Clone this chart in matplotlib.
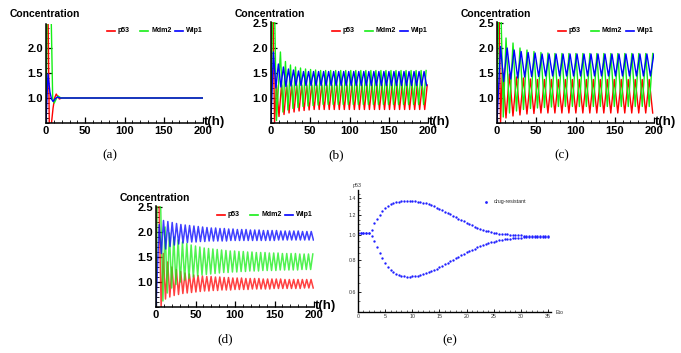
import numpy as np
import matplotlib
matplotlib.use('Agg')
import matplotlib.pyplot as plt
from matplotlib.lines import Line2D
from matplotlib.ticker import MultipleLocator, FixedLocator, NullFormatter, FixedFormatter

plt.rcParams['font.family'] = ['Liberation Sans', 'DejaVu Sans']
plt.rcParams['font.weight'] = 'bold'

W, H = 681, 353

RED = '#ff0000'
GREEN = '#16ee16'
BLUE = '#0000ff'

# ---------------- panel (a): damped to the fixed point ----------------
t_a_p53 = [0, 1.0, 2.5, 4.2, 5.5, 7.0, 9.0, 11.0, 13.0, 15.0, 17.0, 20.0, 25.0, 200]
p53_a = [0.45, 2.8, 2.8, 0.45, 0.35, 0.5, 0.8, 1.0, 1.08, 1.03, 0.98, 1.0, 1.0, 1.0]
t_a_mdm2 = [0, 1.5, 6.4, 8.5, 10.5, 13.0, 15.5, 19.0, 24.0, 200]
mdm2_a = [0.45, 2.8, 2.8, 1.0, 0.9, 0.98, 1.04, 1.0, 1.0, 1.0]
t_a_wip1 = [0, 2.5, 5.0, 7.0, 9.0, 12.0, 14.5, 18.0, 24.0, 200]
wip1_a = [0.5, 1.48, 1.12, 0.98, 0.93, 0.99, 1.02, 1.0, 1.0, 1.0]

# ---------------- panel (b): sustained oscillation ----------------
# start segment (t, value) then extrema spaced by half a period
half_b = 3.2
p53_b_start = ([0, 0.8, 2.5, 4.5], [0.45, 2.8, 2.8, 0.5])
p53_b_t0 = 7.0
p53_b_ext = [1.26, 0.63, 1.26, 0.67, 1.26, 0.70, 1.26, 0.72, 1.26, 0.74,
             1.26, 0.75, 1.26, 0.76] + [1.26, 0.77] * 30
mdm2_b_start = ([0, 2.0, 4.5, 7.0], [0.45, 2.8, 2.8, 0.55])
mdm2_b_t0 = 12.0
mdm2_b_ext = [1.92, 0.72, 1.73, 0.76, 1.66, 0.79, 1.62, 0.81, 1.60, 0.83,
              1.58, 0.84, 1.57, 0.85, 1.56, 0.86] + [1.55, 0.87] * 30
wip1_b_start = ([0, 3.0], [0.5, 1.92])
wip1_b_t0 = 6.2
wip1_b_ext = [1.20, 1.68, 1.22, 1.62, 1.23, 1.58, 1.24, 1.56, 1.25, 1.54,
              1.25] + [1.53, 1.25] * 30

# ---------------- panel (c): larger oscillation ----------------
half_c = 4.45
p53_c_start = ([0, 0.8, 2.6, 4.5], [0.45, 2.8, 2.8, 0.5])
p53_c_t0 = 7.0
p53_c_ext = [1.60, 0.60, 1.48, 0.64, 1.42, 0.66, 1.40, 0.68, 1.38, 0.69] + [1.37, 0.70] * 25
mdm2_c_start = ([0, 2.0, 5.0, 8.0], [0.45, 2.8, 2.8, 0.62])
mdm2_c_t0 = 11.5
mdm2_c_ext = [2.20, 0.70, 2.10, 0.74, 2.00, 0.77, 1.96, 0.79, 1.93, 0.80,
              1.91, 0.81, 1.90, 0.82] + [1.89, 0.83] * 25
wip1_c_start = ([0, 4.5], [0.5, 2.03])
wip1_c_t0 = 8.5
wip1_c_ext = [1.33, 2.00, 1.38, 1.96, 1.40, 1.93, 1.42, 1.91, 1.43, 1.90,
              1.43] + [1.88, 1.44] * 25

# ---------------- panel (d): slowly damped oscillation ----------------
half_d = 2.75
p53_d_start = ([0, 0.8, 3.5], [0.45, 2.8, 2.8])
p53_d_t0 = 6.5
p53_d_troughs = [0.50, 0.66, 0.70, 0.73, 0.75, 0.77, 0.78, 0.79, 0.80, 0.81, 0.82, 0.82,
                 0.83, 0.83, 0.84, 0.84, 0.84, 0.85, 0.85, 0.85, 0.85, 0.86, 0.86, 0.86,
                 0.86, 0.86, 0.87, 0.87, 0.87, 0.87, 0.87, 0.87, 0.87, 0.88, 0.88, 0.88]
p53_d_peaks = [1.57, 1.40, 1.30, 1.25, 1.21, 1.18, 1.16, 1.14, 1.13, 1.12, 1.11, 1.11,
               1.10, 1.10, 1.09, 1.09, 1.08, 1.08, 1.08, 1.07, 1.07, 1.07, 1.07, 1.06,
               1.06, 1.06, 1.06, 1.06, 1.05, 1.05, 1.05, 1.05, 1.05, 1.05, 1.05, 1.05]
mdm2_d_start = ([0, 1.5], [0.45, 2.8])
mdm2_d_t0 = 6.0
mdm2_d_peaks = [2.45, 2.10, 1.98, 1.90, 1.84, 1.80, 1.77, 1.74, 1.72, 1.70, 1.68, 1.67,
                1.66, 1.65, 1.64, 1.63, 1.62, 1.62, 1.61, 1.61, 1.60, 1.60, 1.59, 1.59,
                1.59, 1.58, 1.58, 1.58, 1.57, 1.57, 1.57, 1.57, 1.56, 1.56, 1.56, 1.56]
mdm2_d_troughs = [0.62, 0.78, 0.88, 0.95, 1.00, 1.04, 1.07, 1.10, 1.12, 1.14, 1.15, 1.16,
                  1.17, 1.18, 1.19, 1.19, 1.20, 1.20, 1.21, 1.21, 1.22, 1.22, 1.22, 1.23,
                  1.23, 1.23, 1.23, 1.24, 1.24, 1.24, 1.24, 1.24, 1.25, 1.25, 1.25, 1.25]
wip1_d_start = ([0], [0.5])
wip1_d_t0 = 4.0
wip1_d_peaks = [2.15, 2.23, 2.21, 2.19, 2.17, 2.15, 2.14, 2.13, 2.12, 2.11, 2.10, 2.09,
                2.08, 2.08, 2.07, 2.07, 2.06, 2.06, 2.05, 2.05, 2.05, 2.04, 2.04, 2.04,
                2.03, 2.03, 2.03, 2.03, 2.02, 2.02, 2.02, 2.02, 2.02, 2.01, 2.01, 2.01]
wip1_d_troughs = [1.57, 1.66, 1.71, 1.74, 1.76, 1.78, 1.79, 1.80, 1.80, 1.81, 1.81, 1.82,
                  1.82, 1.82, 1.82, 1.82, 1.83, 1.83, 1.83, 1.83, 1.83, 1.83, 1.83, 1.83,
                  1.83, 1.83, 1.83, 1.84, 1.84, 1.84, 1.84, 1.84, 1.84, 1.84, 1.84, 1.84]

# ---------------- panel (e): bifurcation diagram ----------------
eto = [0, 0.5, 1, 1.5, 2, 2.5, 3, 3.5, 4, 4.5, 5, 5.5, 6, 6.5, 7, 7.5, 8, 8.5, 9, 9.5,
       10, 10.5, 11, 11.5, 12, 12.5, 13, 13.5, 14, 14.5, 15, 15.5, 16, 16.5, 17, 17.5,
       18, 18.5, 19, 19.5, 20, 20.5, 21, 21.5, 22, 22.5, 23, 23.5, 24, 24.5, 25, 25.5,
       26, 26.5, 27, 27.5, 28, 28.5, 29, 29.5, 30, 30.5, 31, 31.5, 32, 32.5, 33, 33.5,
       34, 34.5, 35]
p53_max = [1.015, 1.018, 1.02, 1.02, 1.02, 1.05, 1.11, 1.16, 1.20, 1.24, 1.275, 1.30,
           1.32, 1.335, 1.345, 1.352, 1.357, 1.36, 1.362, 1.362, 1.36, 1.357, 1.352,
           1.346, 1.338, 1.329, 1.318, 1.306, 1.293, 1.279, 1.265, 1.25, 1.235, 1.22,
           1.205, 1.19, 1.175, 1.16, 1.145, 1.13, 1.116, 1.103, 1.09, 1.078, 1.067,
           1.057, 1.048, 1.04, 1.033, 1.027, 1.022, 1.017, 1.013, 1.01, 1.007, 1.005,
           1.003, 1.001, 0.999, 0.997, 0.996, 0.995, 0.994, 0.993, 0.992, 0.991, 0.99,
           0.99, 0.989, 0.989, 0.988]
p53_min = [1.015, 1.018, 1.02, 1.02, 1.02, 0.99, 0.945, 0.895, 0.85, 0.81, 0.775, 0.75,
           0.73, 0.715, 0.705, 0.698, 0.693, 0.69, 0.688, 0.688, 0.689, 0.691, 0.694,
           0.698, 0.703, 0.709, 0.715, 0.722, 0.73, 0.738, 0.747, 0.757, 0.767, 0.778,
           0.789, 0.80, 0.811, 0.822, 0.833, 0.844, 0.855, 0.865, 0.875, 0.885, 0.895,
           0.904, 0.913, 0.921, 0.929, 0.936, 0.943, 0.949, 0.954, 0.959, 0.963, 0.966,
           0.969, 0.972, 0.974, 0.976, 0.977, 0.979, 0.98, 0.981, 0.982, 0.983, 0.984,
           0.984, 0.985, 0.985, 0.986]


def build(start, t0, half, ext):
    t = list(start[0]) + [t0 + half * k for k in range(len(ext))]
    v = list(start[1]) + list(ext)
    t, v = np.array(t), np.array(v)
    keep = t <= 200
    return t[keep], v[keep]


def zigzag(first, second):
    return [x for pair in zip(first, second) for x in pair]


def px_axes(fig, left, right, top, bottom):
    return fig.add_axes([left / W, 1 - bottom / H, (right - left) / W, (bottom - top) / H])


def style_time_axes(ax, ytop, yticks):
    ax.set_xlim(0, 200)
    ax.set_ylim(0.5, ytop)
    for s in ['top', 'right']:
        ax.spines[s].set_visible(False)
    for s in ['left', 'bottom']:
        ax.spines[s].set_linewidth(1.1)
    ax.xaxis.set_major_locator(FixedLocator([0, 50, 100, 150, 200]))
    ax.xaxis.set_minor_locator(MultipleLocator(10))
    ax.yaxis.set_major_locator(FixedLocator(yticks))
    ax.yaxis.set_major_formatter(FixedFormatter(['%.1f' % y for y in yticks]))
    ax.yaxis.set_minor_locator(MultipleLocator(0.1))
    ax.tick_params(which='major', direction='in', length=4, width=0.9, labelsize=8, pad=2)
    ax.tick_params(which='minor', direction='in', length=2, width=0.6)


def decorate(fig, L, R, T, B, caption, cap_dx):
    fig.text((L - 36) / W, 1 - (T - 8) / H, 'Concentration', fontsize=7.5,
             ha='left', va='center')
    fig.text((R + 1) / W, 1 - (B + 2) / H, 't(h)', fontsize=9.5, ha='left', va='baseline')
    fig.text((L + cap_dx) / W, 1 - (B + 32) / H, caption, fontsize=9.5,
             family=['Liberation Serif'], weight='normal', ha='center', va='center')
    y = 1 - (T + 9) / H
    items = [(RED, 'p53', 61), (GREEN, 'Mdm2', 94), (BLUE, 'Wip1', 129)]
    for col, lab, dx in items:
        fig.add_artist(Line2D([(L + dx) / W, (L + dx + 8) / W], [y, y], color=col, lw=1.2))
        fig.text((L + dx + 11) / W, y, lab, fontsize=5, ha='left', va='center')


fig = plt.figure(figsize=(W / 100, H / 100), dpi=100)

# (a)
ax = px_axes(fig, 46, 203, 23.5, 123)
ax.plot(t_a_p53, p53_a, color=RED, lw=1.0)
ax.plot(t_a_mdm2, mdm2_a, color=GREEN, lw=1.0)
ax.plot(t_a_wip1, wip1_a, color=BLUE, lw=1.0)
style_time_axes(ax, 2.49, [1.0, 1.5, 2.0])
decorate(fig, 46, 203, 22, 123, '(a)', 64)

# (b)
ax = px_axes(fig, 271, 428, 22, 123)
for (st, t0, ext, col) in [(p53_b_start, p53_b_t0, p53_b_ext, RED),
                           (mdm2_b_start, mdm2_b_t0, mdm2_b_ext, GREEN),
                           (wip1_b_start, wip1_b_t0, wip1_b_ext, BLUE)]:
    t, v = build(st, t0, half_b, ext)
    ax.plot(t, v, color=col, lw=1.0)
style_time_axes(ax, 2.52, [1.0, 1.5, 2.0, 2.5])
decorate(fig, 271, 428, 22, 123, '(b)', 65)

# (c)
ax = px_axes(fig, 497, 654, 22, 123)
for (st, t0, ext, col) in [(p53_c_start, p53_c_t0, p53_c_ext, RED),
                           (mdm2_c_start, mdm2_c_t0, mdm2_c_ext, GREEN),
                           (wip1_c_start, wip1_c_t0, wip1_c_ext, BLUE)]:
    t, v = build(st, t0, half_c, ext)
    ax.plot(t, v, color=col, lw=1.0)
style_time_axes(ax, 2.52, [1.0, 1.5, 2.0, 2.5])
decorate(fig, 497, 654, 22, 123, '(c)', 65)

# (d)
ax = px_axes(fig, 156, 314, 206, 307)
for (st, t0, a, b, col) in [(p53_d_start, p53_d_t0, p53_d_troughs, p53_d_peaks, RED),
                            (mdm2_d_start, mdm2_d_t0, mdm2_d_peaks, mdm2_d_troughs, GREEN),
                            (wip1_d_start, wip1_d_t0, wip1_d_peaks, wip1_d_troughs, BLUE)]:
    t, v = build(st, t0, half_d, zigzag(a, b))
    ax.plot(t, v, color=col, lw=1.1, alpha=0.75)
style_time_axes(ax, 2.52, [1.0, 1.5, 2.0, 2.5])
decorate(fig, 156, 314, 206, 307, '(d)', 69)

# (e)
ax = px_axes(fig, 358, 550.8, 190, 312)
ax.set_yscale('log')
ax.plot(eto, p53_max, 'o', color='#2020ff', ms=1.7, mew=0)
ax.plot(eto, p53_min, 'o', color='#2020ff', ms=1.7, mew=0)
ax.set_xlim(0, 35.5)
ax.set_ylim(0.5, 1.5)
for s in ['top', 'right']:
    ax.spines[s].set_visible(False)
for s in ['left', 'bottom']:
    ax.spines[s].set_linewidth(1.0)
ax.xaxis.set_major_locator(FixedLocator([0, 5, 10, 15, 20, 25, 30, 35]))
ax.xaxis.set_minor_locator(MultipleLocator(1))
yt = [0.6, 0.8, 1.0, 1.2, 1.4]
ax.yaxis.set_major_locator(FixedLocator(yt))
ax.yaxis.set_major_formatter(FixedFormatter(['%.1f' % y for y in yt]))
ax.yaxis.set_minor_locator(FixedLocator([0.55, 0.65, 0.7, 0.75, 0.85, 0.9, 0.95,
                                         1.05, 1.1, 1.15, 1.25, 1.3, 1.35, 1.45]))
ax.yaxis.set_minor_formatter(NullFormatter())
ax.tick_params(which='major', direction='in', length=2.5, width=0.6, labelsize=3.8,
               pad=1.5, labelcolor='#333333')
ax.tick_params(which='minor', direction='in', length=1.3, width=0.4)
for lab in ax.get_xticklabels() + ax.get_yticklabels():
    lab.set_fontweight('normal')
fig.text(353 / W, 1 - 185 / H, 'p53', fontsize=3.8, weight='normal', color='#333333',
         ha='left', va='center')
fig.text(556 / W, 1 - 312 / H, 'Eto', fontsize=3.8, weight='normal', color='#333333',
         ha='left', va='center')
ax.plot([0.665], [0.90], 'o', transform=ax.transAxes, color='#2020ff', ms=2.0, mew=0)
fig.text(494 / W, 1 - 202 / H, 'drug-resistant', fontsize=3.8, weight='normal',
         color='#222222', ha='left', va='center')
fig.text(450 / W, 1 - 340 / H, '(e)', fontsize=9.5, family=['Liberation Serif'],
         weight='normal', ha='center', va='center')

fig.savefig('out.png', dpi=100)
